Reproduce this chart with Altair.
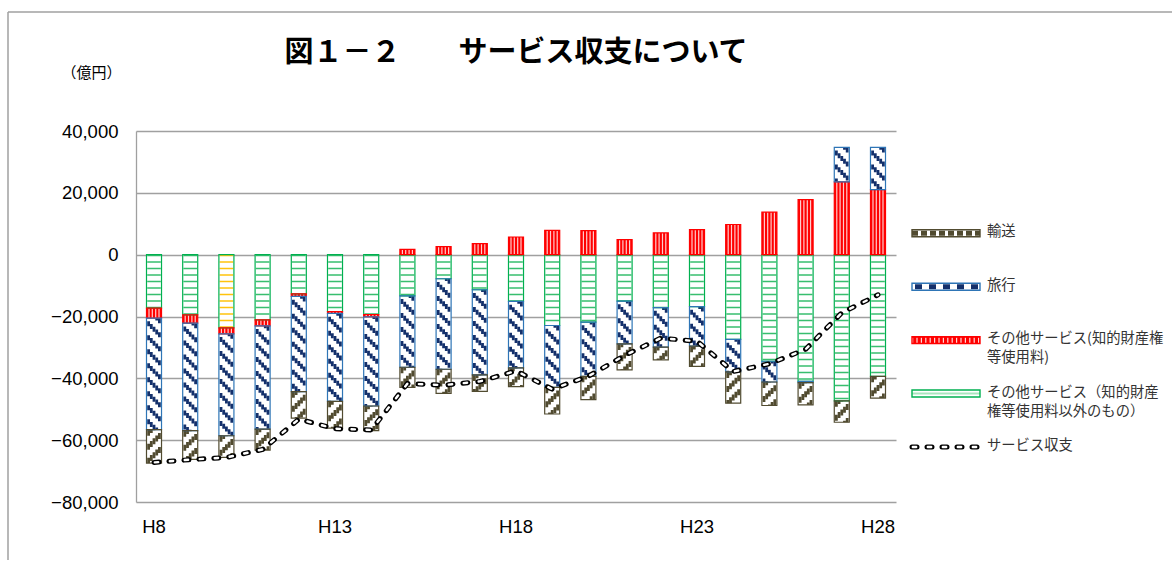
import altair as alt
import pandas as pd

# ---------------- data (億円) ----------------
years = ["H8", "H9", "H10", "H11", "H12", "H13", "H14", "H15", "H16", "H17", "H18",
         "H19", "H20", "H21", "H22", "H23", "H24", "H25", "H26", "H27", "H28"]
transport = [-10800, -9300, -7020, -6810, -8540, -8640, -7990, -6480, -7780, -5300, -6050,
             -8640, -7560, -8420, -4120, -6510, -10080, -7590, -7160, -6940, -7050]
travel = [-36080, -34780, -32960, -33380, -30780, -28420, -28850, -23120, -29280, -27550, -21490,
          -19990, -17510, -13830, -12790, -12790, -10510, -6720, -440, 11170, 13660]
ip_fees = [-3240, -2700, -1940, -1940, -870, -640, -750, 1720, 2580, 3560, 5710,
           7880, 7800, 4850, 7050, 8130, 9760, 13770, 17780, 23520, 21030]
other = [-17300, -19460, -23670, -21080, -12650, -18380, -19350, -13300, -7790, -11350, -15140,
         -22910, -21830, -15030, -17130, -16800, -27430, -34470, -40980, -47260, -39350]
balance = [-67200, -66300, -65600, -63000, -53200, -56300, -56700, -41700, -42200, -41000, -37600,
           -43500, -39300, -32600, -27000, -28000, -37800, -35300, -30600, -18800, -13000]
x_labels = ["H8", "H13", "H18", "H23", "H28"]
y_ticks = [-80000, -60000, -40000, -20000, 0, 20000, 40000]
legend_labels = ["輸送", "旅行", "その他サービス(知的財産権\n等使用料)",
                 "その他サービス（知的財産\n権等使用料以外のもの）", "サービス収支"]
title_text = "図１－２　　サービス収支について"
unit_text = "（億円）"

# ---------------- stacking (other, ip, travel, transport) ----------------
keys = ["other", "ip", "travel", "transport"]
series_vals = {"other": other, "ip": ip_fees, "travel": travel, "transport": transport}
rows = []
for i, yr in enumerate(years):
    pos, neg = 0, 0
    for k in keys:
        v = series_vals[k][i]
        if v >= 0:
            lo, hi = pos, pos + v
            pos += v
        else:
            hi, lo = neg, neg + v
            neg += v
        rows.append({"year": yr, "series": k, "top": hi, "bottom": lo})
bars_df = pd.DataFrame(rows)
line_df = pd.DataFrame({"year": years, "balance": balance})

GREEN, RED, BLUE, NAVY, OLIVE = "#00B050", "#FF0000", "#2E75B6", "#14306B", "#514B30"
GRID = "#A0A0A0"

xscale = alt.Scale(domain=years, paddingInner=0.585, paddingOuter=0.29)
xaxis = alt.Axis(values=x_labels, labelAngle=0, title=None, domain=False, ticks=False,
                 tickSize=0, labelPadding=15, labelFontSize=18.5, labelFont="Liberation Sans",
                 labelColor="#000000", grid=False)
yscale = alt.Scale(domain=[-80000, 40000], nice=False, zero=False)
yaxis = alt.Axis(values=y_ticks, format=",.0f", grid=True, gridColor=GRID, gridWidth=1.3,
                 domainColor=GRID, domainWidth=1.3, ticks=False, tickSize=0, labelPadding=18,
                 labelFontSize=18.5, labelFont="Liberation Sans", labelColor="#000000",
                 title=unit_text, titleAngle=0, titleX=-45, titleY=-59, titleAlign="center",
                 titleBaseline="middle", titleFont="Noto Sans CJK JP", titleFontSize=15,
                 titleFontWeight="normal", titleColor="#000000")


def X():
    return alt.X("year:N", scale=xscale, axis=xaxis, sort=years)


def Y(field):
    return alt.Y(f"{field}:Q", scale=yscale, axis=yaxis)


base = alt.Chart(bars_df)

fill_layer = base.mark_bar(strokeWidth=0).encode(
    x=X(), y=Y("top"), y2="bottom:Q",
    fill=alt.Fill("series:N", scale=alt.Scale(domain=keys, range=["#FFFFFF", RED, "#FFFFFF", "#FFFFFF"]),
                  legend=None),
)

layers = [fill_layer]

# green: horizontal lines
layers.append(
    base.transform_filter(alt.datum.series == "other").mark_rule(
        strokeWidth=13.6, strokeDash=[1.6, 4.9], strokeCap="butt", opacity=0.95
    ).encode(
        x=X(), y=Y("top"), y2="bottom:Q",
        color=alt.condition(alt.datum.year == "H10", alt.value("#FFC000"), alt.value("#2DBB66")),
    )
)

# red: vertical white lines
for off in [-5.0, -1.7, 1.7, 5.0]:
    layers.append(
        base.transform_filter(alt.datum.series == "ip").mark_rule(
            strokeWidth=1.2, color="#FFFFFF", opacity=0.8, xOffset=off, strokeCap="butt"
        ).encode(x=X(), y=Y("top"), y2="bottom:Q")
    )

# travel: "\" diagonal stripes ; transport: "/" diagonal stripes
ncols, colw = 5, 2.7
for i in range(ncols):
    off = (i - (ncols - 1) / 2) * colw
    layers.append(
        base.transform_filter(alt.datum.series == "travel").mark_rule(
            strokeWidth=colw + 0.1, color=NAVY, strokeDash=[5, 9],
            strokeDashOffset=(ncols - 1 - i) * colw, xOffset=off, strokeCap="butt"
        ).encode(x=X(), y=Y("top"), y2="bottom:Q")
    )
    layers.append(
        base.transform_filter(alt.datum.series == "transport").mark_rule(
            strokeWidth=colw + 0.1, color=OLIVE, strokeDash=[6, 8],
            strokeDashOffset=i * colw, xOffset=off, strokeCap="butt"
        ).encode(x=X(), y=Y("top"), y2="bottom:Q")
    )

# outlines
layers.append(
    base.mark_bar(fillOpacity=0, strokeWidth=1.2).encode(
        x=X(), y=Y("top"), y2="bottom:Q",
        stroke=alt.Stroke("series:N", scale=alt.Scale(domain=keys, range=[GREEN, RED, BLUE, OLIVE]),
                          legend=None),
    )
)

# balance line (black pill-shaped dashes with white core)
lbase = alt.Chart(line_df)
layers.append(
    lbase.mark_line(color="#000000", strokeWidth=5, strokeDash=[5, 10], strokeCap="round").encode(
        x=X(), y=Y("balance"))
)
layers.append(
    lbase.mark_line(color="#FFFFFF", strokeWidth=2.4, strokeDash=[3.4, 11.6], strokeDashOffset=-0.8,
                    strokeCap="round").encode(x=X(), y=Y("balance"))
)

main = alt.layer(*layers).properties(
    width=760, height=371,
    title=alt.TitleParams(title_text, font="Noto Sans CJK JP", fontSize=29, fontWeight="bold",
                          anchor="middle", frame="group", color="#000000", offset=2, dy=5),
)

# ---------------- legend panel ----------------
leg_keys = ["transport", "travel", "ip", "other", "line"]
leg_df = pd.DataFrame({"idx": list(range(len(legend_labels))), "key": leg_keys, "label": legend_labels})
lx = alt.X(datum=0, scale=alt.Scale(domain=[0, 1], padding=0), axis=None)
lx2 = alt.X2(datum=1)
ly = alt.Y("idx:Q", scale=alt.Scale(domain=[-1.915, 5.03], reverse=True, nice=False, zero=False, padding=0),
           axis=None)
lbase2 = alt.Chart(leg_df)
sym_keys = ["transport", "travel", "ip", "other"]

leg_layers = [
    lbase2.transform_filter(alt.datum.idx < 4).mark_bar(size=7, strokeWidth=0).encode(
        x=lx, x2=lx2, y=ly,
        fill=alt.Fill("key:N", scale=alt.Scale(domain=sym_keys, range=["#FFFFFF", "#FFFFFF", RED, "#FFFFFF"]),
                      legend=None),
    ),
    lbase2.transform_filter(alt.datum.key == "transport").mark_rule(
        strokeWidth=5, color=OLIVE, strokeDash=[6, 3], strokeCap="butt").encode(x=lx, x2=lx2, y=ly),
    lbase2.transform_filter(alt.datum.key == "travel").mark_rule(
        strokeWidth=5, color=NAVY, strokeDash=[7, 7], strokeDashOffset=-3, strokeCap="butt").encode(x=lx, x2=lx2, y=ly),
    lbase2.transform_filter(alt.datum.key == "ip").mark_rule(
        strokeWidth=5, color="#FFFFFF", opacity=0.85, strokeDash=[1.2, 3.2], strokeCap="butt").encode(x=lx, x2=lx2, y=ly),
    lbase2.transform_filter(alt.datum.key == "other").mark_rule(
        strokeWidth=2, color="#A8E6BE", strokeCap="butt").encode(x=lx, x2=lx2, y=ly),
    lbase2.transform_filter(alt.datum.idx < 4).mark_bar(size=7, fillOpacity=0, strokeWidth=1.4).encode(
        x=lx, x2=lx2, y=ly,
        stroke=alt.Stroke("key:N", scale=alt.Scale(domain=sym_keys, range=[OLIVE, BLUE, RED, GREEN]), legend=None),
    ),
    lbase2.transform_filter(alt.datum.key == "line").mark_rule(
        strokeWidth=5, color="#000000", strokeDash=[5, 10], strokeCap="round").encode(x=lx, x2=lx2, y=ly),
    lbase2.transform_filter(alt.datum.key == "line").mark_rule(
        strokeWidth=2.4, color="#FFFFFF", strokeDash=[3.4, 11.6], strokeDashOffset=-0.8, strokeCap="round").encode(
        x=lx, x2=lx2, y=ly),
    lbase2.mark_text(align="left", baseline="top", dx=7, dy=-8, lineBreak="\n", lineHeight=19,
                     font="Noto Sans CJK JP", fontSize=14.3, color="#333333").encode(
        x=alt.X(datum=1, scale=alt.Scale(domain=[0, 1], padding=0), axis=None), y=ly, text="label:N"),
]

# chart frame (top and left border lines)
frame_df = pd.DataFrame({"k": [0]})
leg_layers.append(
    alt.Chart(frame_df).mark_rule(color=GRID, strokeWidth=1.5).encode(
        x=alt.value(-904), x2=alt.value(260), y=alt.value(-119))
)
leg_layers.append(
    alt.Chart(frame_df).mark_rule(color=GRID, strokeWidth=1.5).encode(
        x=alt.value(-904), y=alt.value(-119), y2=alt.value(429))
)

legend_panel = alt.layer(*leg_layers).properties(width=68, height=371)

chart = alt.hconcat(main, legend_panel, spacing=16, bounds="flush").properties(
    padding={"left": 7, "top": 11, "right": 0, "bottom": 0}, background="#FFFFFF"
).configure_view(stroke=None)

chart.save("out.html", embed_options={"renderer": "svg", "actions": False})
